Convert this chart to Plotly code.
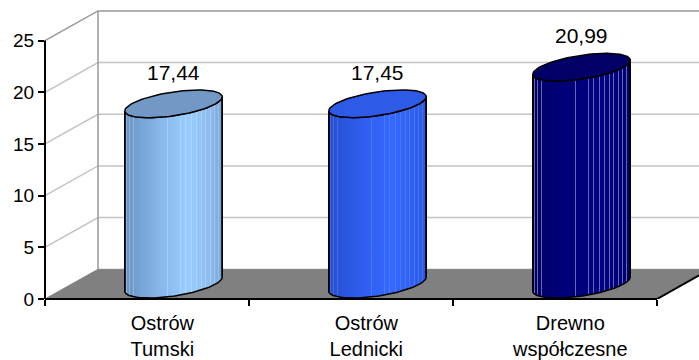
import math
import numpy as np
import plotly.graph_objects as go

# ---- data -------------------------------------------------------------
categories = ["Ostrów<br>Tumski", "Ostrów<br>Lednicki", "Drewno<br>współczesne"]
values = [17.44, 17.45, 20.99]
value_labels = ["17,44", "17,45", "20,99"]
y_ticks = [0, 5, 10, 15, 20, 25]
y_max = 25

# ---- page / axis geometry ----------------------------------------------
W, H = 699, 360
M_L, M_R, M_T, M_B = 45, 0, 0, 58
PX_PER_X = 204.0          # pixels per category slot
PX_PER_Y = 10.44          # pixels per value unit
X_RANGE = [-0.5, -0.5 + (W - M_L - M_R) / PX_PER_X]
Y_RANGE = [0, (H - M_T - M_B) / PX_PER_Y]

# oblique depth of the 3-D box, in axis units
DX = 53 / PX_PER_X
DY = 30 / PX_PER_Y

# cylinder cross-section (ellipse) in axis units
ELL_A = 42 / PX_PER_X     # half width along the category direction
ELL_P = 24.7 / PX_PER_X   # depth direction, horizontal part
ELL_Q = 14 / PX_PER_Y     # depth direction, vertical part

FONT = "Liberation Sans, Arial, sans-serif"

# body gradient, cap colour, stripe colour per bar
bar_styles = [
    dict(scale=[[0, "#6a93c2"], [0.35, "#86b6ea"], [0.65, "#9acdff"], [0.88, "#8dbbec"], [1, "#7aa4d6"]],
         cap="#7299c6", stripe="rgba(235,245,255,0.28)"),
    dict(scale=[[0, "#274fcf"], [0.35, "#2f5ef0"], [0.65, "#3468ff"], [0.88, "#2f60f2"], [1, "#2b58e0"]],
         cap="#2d5ae6", stripe="rgba(150,180,255,0.25)"),
    dict(scale=[[0, "#00006a"], [0.35, "#000078"], [0.65, "#000084"], [0.88, "#00007c"], [1, "#000070"]],
         cap="#000066", stripe="rgba(170,170,215,0.6)"),
]
# horizontal offsets (px from bar centre) of the light shading bands
STRIPE_PX = [-47, -44, -40, -6, 7, 12, 18, 23, 28, 32, 37, 41, 45]

fig = go.Figure()

GRID = "#c4c4c4"
EDGE = "#999999"

# ---- walls: gridlines on the side and back wall ------------------------
for t in y_ticks[1:-1]:
    fig.add_trace(go.Scatter(
        x=[-0.5, -0.5 + DX, 2.5 + DX], y=[t, t + DY, t + DY],
        mode="lines", line=dict(color=GRID, width=1.5),
        hoverinfo="skip", showlegend=False))

# wall outlines
fig.add_trace(go.Scatter(
    x=[-0.5 + DX, -0.5 + DX, None, -0.5, -0.5 + DX, 2.5 + DX],
    y=[DY, y_max + DY, None, y_max, y_max + DY, y_max + DY],
    mode="lines", line=dict(color=EDGE, width=1.5),
    hoverinfo="skip", showlegend=False))

# ---- floor -------------------------------------------------------------
n = len(values)
fig.add_trace(go.Scatter(
    x=[-0.5, n - 0.5, n - 0.5 + DX, -0.5 + DX, -0.5],
    y=[0, 0, DY, DY, 0],
    mode="lines", fill="toself", fillcolor="#808080",
    line=dict(color="#808080", width=1),
    hoverinfo="skip", showlegend=False))
fig.add_trace(go.Scatter(
    x=[n - 0.5, n - 0.5 + DX], y=[0, DY],
    mode="lines", line=dict(color="black", width=2),
    hoverinfo="skip", showlegend=False))

# ---- cylinders ----------------------------------------------------------
R_PX = math.hypot(ELL_A * PX_PER_X, ELL_P * PX_PER_X)
TH0 = math.atan2(ELL_P, ELL_A)


def ellipse(cx, cy, th):
    return cx + ELL_A * np.cos(th) + ELL_P * np.sin(th), cy + ELL_Q * np.sin(th)


for i, (v, st) in enumerate(zip(values, bar_styles)):
    cx = i + DX / 2
    base = DY / 2
    top = v + DY / 2

    front = np.linspace(TH0 + math.pi, TH0 + 2 * math.pi, 60)
    tx, ty = ellipse(cx, top, front)
    bx, by = ellipse(cx, base, front[::-1])
    body_x = np.concatenate([tx, bx, tx[:1]])
    body_y = np.concatenate([ty, by, ty[:1]])
    fig.add_trace(go.Scatter(
        x=body_x, y=body_y, mode="lines", fill="toself",
        fillgradient=dict(type="horizontal", colorscale=st["scale"]),
        line=dict(color="black", width=1.5),
        hoverinfo="skip", showlegend=False))

    # shading bands
    sx, sy = [], []
    for u in STRIPE_PX:
        th = TH0 + 2 * math.pi - math.acos(max(-1, min(1, u / R_PX)))
        xo = cx + ELL_A * math.cos(th) + ELL_P * math.sin(th)
        yo = ELL_Q * math.sin(th)
        sx += [xo, xo, None]
        sy += [top + yo - 0.1, base + yo + 0.1, None]
    fig.add_trace(go.Scatter(
        x=sx, y=sy, mode="lines", line=dict(color=st["stripe"], width=1),
        hoverinfo="skip", showlegend=False))

    # redraw the side edges above the bands
    fig.add_trace(go.Scatter(
        x=[tx[0], bx[-1], None, tx[-1], bx[0]],
        y=[ty[0], by[-1], None, ty[-1], by[0]],
        mode="lines", line=dict(color="black", width=1.5),
        hoverinfo="skip", showlegend=False))

    # top cap
    full = np.linspace(0, 2 * math.pi, 90)
    capx, capy = ellipse(cx, top, full)
    fig.add_trace(go.Scatter(
        x=capx, y=capy, mode="lines", fill="toself", fillcolor=st["cap"],
        line=dict(color="black", width=1.5),
        hoverinfo="skip", showlegend=False))

    fig.add_annotation(
        x=cx, y=top + ELL_Q, text=value_labels[i], showarrow=False,
        yanchor="bottom", yshift=4,
        font=dict(family=FONT, size=21, color="black"))

# ---- front axis lines ---------------------------------------------------
fig.add_shape(type="line", xref="paper", yref="y", x0=0, x1=0, y0=0, y1=y_max,
              line=dict(color="black", width=2))
fig.add_shape(type="line", xref="x", yref="paper", x0=-0.5, x1=n - 0.5, y0=0, y1=0,
              line=dict(color="black", width=2))

fig.update_layout(
    width=W, height=H,
    margin=dict(l=M_L, r=M_R, t=M_T, b=M_B),
    paper_bgcolor="white", plot_bgcolor="white",
    font=dict(family=FONT, size=19, color="black"),
    showlegend=False,
    xaxis=dict(
        range=X_RANGE, showgrid=False, zeroline=False, showline=False,
        tickmode="array", tickvals=[i + 0.075 for i in range(n)], ticktext=categories,
        ticks="outside", ticklen=6, tickcolor="rgba(0,0,0,0)",
        tickfont=dict(family=FONT, size=20, color="black"),
        minor=dict(tickmode="array", tickvals=[k - 0.5 for k in range(n + 1)],
                   ticks="outside", ticklen=6, tickwidth=1.5, tickcolor="black",
                   showgrid=False),
        fixedrange=True,
    ),
    yaxis=dict(
        range=Y_RANGE, showgrid=False, zeroline=False, showline=False,
        tickmode="array", tickvals=y_ticks,
        ticks="outside", ticklen=6, tickwidth=1.5, tickcolor="black",
        tickfont=dict(family=FONT, size=19, color="black"),
        fixedrange=True,
    ),
)

fig.write_html("out.html")
